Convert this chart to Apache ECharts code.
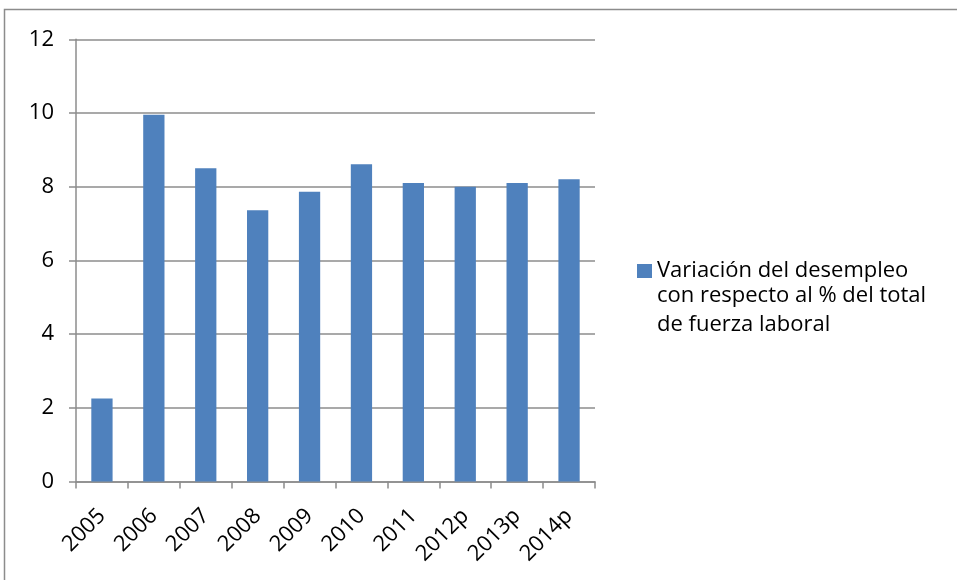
<!DOCTYPE html>
<html>
<head>
<meta charset="utf-8">
<script src="https://cdn.jsdelivr.net/npm/echarts@6/dist/echarts.min.js"></script>
<style>
    html, body { margin: 0; padding: 0; background: #fff; }
    #chart { width: 957px; height: 580px; }
</style>
</head>
<body>
<div id="chart"></div>
<script>
// datos del grafico
var years = ['2005', '2006', '2007', '2008', '2009', '2010', '2011', '2012p', '2013p', '2014p'];
var desempleo = [2.25, 9.95, 8.5, 7.36, 7.86, 8.61, 8.1, 8.0, 8.1, 8.2];
var yTicks = [0, 2, 4, 6, 8, 10, 12];
var serieNombre = 'Variación del desempleo con respecto al % del total de fuerza laboral';
var leyendaLineas = ['Variación del desempleo', 'con respecto al % del total', 'de fuerza laboral'];

var chart = echarts.init(document.getElementById('chart'));
var gris = '#8c8c8c';
var fuente = 'Open Sans';
var leyendaX = 657, leyendaY = 267, leyendaPaso = 29;

// borde exterior + lineas 2 y 3 de la leyenda
var graficos = [{
    type: 'rect',
    shape: { x: 4.5, y: 9.5, width: 980, height: 600 },
    style: { fill: 'none', stroke: gris, lineWidth: 1.5 },
    silent: true
}];
for (var i = 1; i < leyendaLineas.length; i++) {
    graficos.push({
        type: 'text',
        x: leyendaX,
        y: leyendaY + leyendaPaso * i,
        style: { text: leyendaLineas[i], font: '22px "Open Sans"', fill: '#000', verticalAlign: 'middle', align: 'left' },
        silent: true
    });
}

var option = {
    backgroundColor: '#fff',
    animation: false,
    textStyle: { fontFamily: fuente },
    graphic: graficos,
    grid: { left: 76, right: 362, top: 39.3, bottom: 98.5 },
    legend: {
        left: 637,
        top: 260,
        padding: 0,
        orient: 'vertical',
        itemWidth: 15,
        itemHeight: 14,
        itemGap: 0,
        icon: 'rect',
        data: [serieNombre],
        formatter: function () { return leyendaLineas[0]; },
        textStyle: { fontFamily: fuente, fontSize: 22, color: '#000' }
    },
    xAxis: {
        type: 'category',
        data: years,
        axisLine: { lineStyle: { color: gris, width: 1.5 } },
        axisTick: { show: true, length: 7, lineStyle: { color: gris, width: 1.5 } },
        axisLabel: { rotate: 45, fontSize: 22, color: '#000', margin: 31, fontFamily: fuente }
    },
    yAxis: {
        type: 'value',
        min: 0,
        max: yTicks[yTicks.length - 1],
        interval: yTicks[1] - yTicks[0],
        axisLine: { show: true, lineStyle: { color: gris, width: 1.5 } },
        axisTick: { show: true, length: 7, lineStyle: { color: gris, width: 1.5 } },
        axisLabel: { fontSize: 22, color: '#000', margin: 22, fontFamily: fuente },
        splitLine: { lineStyle: { color: gris, width: 1.5 } }
    },
    series: [{
        name: serieNombre,
        type: 'bar',
        data: desempleo,
        barWidth: '41%',
        itemStyle: { color: '#4f81bd' }
    }]
};
chart.setOption(option);
</script>
</body>
</html>
